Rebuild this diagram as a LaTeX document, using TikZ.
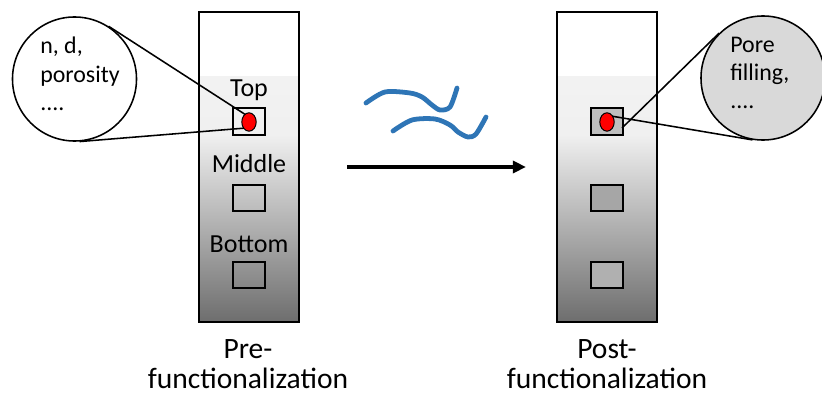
\documentclass[tikz,border=0pt]{standalone}
\usepackage{fontspec}
\setmainfont{Carlito}
\usetikzlibrary{shapes.geometric, arrows.meta, calc}
\definecolor{wireblue}{RGB}{46,117,182}
\definecolor{lensgray}{RGB}{217,217,217}

\begin{document}
\begin{tikzpicture}[x=0.025cm, y=-0.025cm,
    samplebox/.style={draw, line width=1.5pt, minimum width=0.78cm, minimum height=0.66cm, inner sep=0pt},
    reddot/.style={ellipse, draw, fill=red, line width=0.7pt, minimum width=0.36cm, minimum height=0.46cm, inner sep=0pt},
    lens/.style={circle, draw, line width=1.1pt, minimum size=3.1cm, inner sep=0pt},
    tubelabel/.style={font=\fontsize{18.5}{20}\selectfont, anchor=base},
    lenstext/.style={font=\fontsize{17}{20}\selectfont, align=left, anchor=north west, inner sep=0pt},
    tubecaption/.style={font=\fontsize{21}{21.5}\selectfont, align=center, anchor=north, inner sep=0pt}]

    \useasboundingbox (0,0) rectangle (822,400);

    % the two tubes
    \foreach \x in {199,557} {
        \fill[white] (\x,12) rectangle (\x+100,77);
        \shade[top color=black!5, bottom color=black!6] (\x,77) rectangle (\x+100,135);
        \shade[top color=black!6, bottom color=black!57] (\x,135) rectangle (\x+100,322);
        \draw[line width=1pt] (\x,12) rectangle (\x+100,322);
    }

    % pre-functionalization
    \node[tubelabel] (topL) at (249,97) {Top};
    \node[tubelabel] (midL) at (249,173) {Middle};
    \node[tubelabel] (botL) at (249,252) {Bottom};

    \node[samplebox] (sqL1) at (249,121.5) {};
    \node[samplebox] (sqL2) at (249,198) {};
    \node[samplebox] (sqL3) at (249,275) {};

    \node[lens, fill=white] (lensL) at (74.5,79) {};
    \node[lenstext] (txtL) at (40,37) {n, d,\\porosity\\....};

    \coordinate (pL1) at (246,115);
    \coordinate (pL2) at (246,128);
    \draw[line width=1.1pt] (pL1) -- (tangent cs:node=lensL,point={(pL1)},solution=1);
    \draw[line width=1.1pt] (pL2) -- (tangent cs:node=lensL,point={(pL2)},solution=2);
    \node[reddot] (dotL) at (249,122) {};

    % post-functionalization
    \node[samplebox, fill=black!25] (sqR1) at (607,121.5) {};
    \node[samplebox, fill=black!35] (sqR2) at (607,198) {};
    \node[samplebox, fill=black!31] (sqR3) at (607,275) {};

    \node[lens, fill=lensgray] (lensR) at (763,78) {};
    \node[lenstext] (txtR) at (730,37) {Pore\\filling,\\....};

    \coordinate (pR1) at (605,115);
    \coordinate (pR2) at (622,128);
    \draw[line width=1.1pt] (pR1) -- (tangent cs:node=lensR,point={(pR1)},solution=1);
    \draw[line width=1.1pt] (pR2) -- (tangent cs:node=lensR,point={(pR2)},solution=2);
    \node[reddot] (dotR) at (607,122) {};

    % polymer chains and arrow
    \draw[wireblue, line width=3.4pt, line cap=round, line join=round]
        plot[smooth, tension=0.5] coordinates {(366,103) (385,92) (410,93) (422,97) (432,105) (440,110) (450,107) (457,88)};
    \draw[wireblue, line width=3.4pt, line cap=round, line join=round]
        plot[smooth, tension=0.5] coordinates {(393,131) (412,120) (435,119) (450,125) (458,132) (468,137) (476,134) (486,117)};

    \coordinate (arrowstart) at (347,167);
    \coordinate (arrowend) at (526,167);
    \draw[-{Triangle[length=0.33cm, width=0.3cm]}, line width=2.4pt] (arrowstart) -- (arrowend);

    \node[tubecaption] (capL) at (248,339) {Pre-\\functionalization};
    \node[tubecaption] (capR) at (607,339) {Post-\\functionalization};

\end{tikzpicture}
\end{document}
